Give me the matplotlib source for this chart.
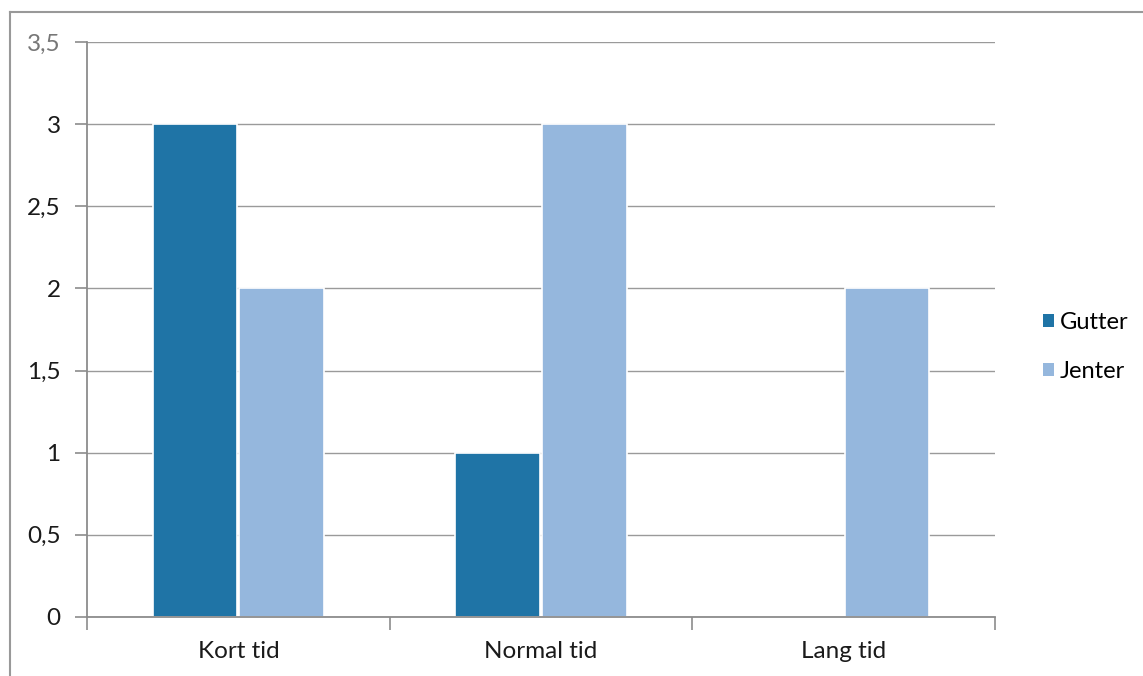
import numpy as np
import matplotlib
matplotlib.use('Agg')
import matplotlib.pyplot as plt
from matplotlib.lines import Line2D
from matplotlib.patches import Patch

# data
categories = ['Kort tid', 'Normal tid', 'Lang tid']
gutter = [3, 1, 0]
jenter = [2, 3, 2]
series_names = ['Gutter', 'Jenter']
y_ticks = [0, 0.5, 1, 1.5, 2, 2.5, 3, 3.5]
y_labels = ['0', '0,5', '1', '1,5', '2', '2,5', '3', '3,5']

dark = '#1f74a6'
light = '#95b7dd'
grey = '#8c8c8c'

plt.rcParams['font.family'] = ['Lato', 'DejaVu Sans']

fig = plt.figure(figsize=(11.43, 6.76), dpi=100)
ax = fig.add_axes([0.0761, 0.0873, 0.7944, 0.8506])

x = np.arange(len(categories)) + 0.5
w = 0.28
ax.bar(x - 0.143, gutter, w, color=dark, edgecolor='white', linewidth=1.2, zorder=3)
ax.bar(x + 0.143, jenter, w, color=light, edgecolor='white', linewidth=1.2, zorder=3)

ax.set_xlim(0, 3)
ax.set_ylim(0, 3.5)
ax.set_yticks(y_ticks)
ax.set_yticklabels(y_labels)
ax.set_xticks(x)
ax.set_xticklabels(categories)
ax.set_xticks([0, 1, 2, 3], minor=True)
ax.tick_params(axis='x', which='major', length=0, pad=17, labelsize=17.5, labelcolor='#1a1a1a')
ax.tick_params(axis='x', which='minor', length=9, width=1.2, color=grey, direction='out')
ax.tick_params(axis='y', length=9, width=1.2, color=grey, pad=10, labelsize=17.5, labelcolor='#1a1a1a')
ax.get_yticklabels()[-1].set_color('#777777')

ax.grid(axis='y', color='#9a9a9a', linewidth=1.0, zorder=0)
for s in ['top', 'right']:
    ax.spines[s].set_visible(False)
for s in ['left', 'bottom']:
    ax.spines[s].set_color(grey)
    ax.spines[s].set_linewidth(1.3)
    ax.spines[s].set_zorder(4)

handles = [Patch(facecolor=dark, edgecolor='none'), Patch(facecolor=light, edgecolor='none')]
fig.legend(handles, series_names, loc='center left', bbox_to_anchor=(1043 / 1143, 0.487),
           frameon=False, fontsize=17, handlelength=0.45, handleheight=0.45,
           handletextpad=0.25, labelspacing=1.2, borderpad=0, borderaxespad=0)

# outer frame of the scanned chart
fig.add_artist(Line2D([10 / 1143, 10 / 1143], [0, 1 - 12 / 676], transform=fig.transFigure,
                      color='#999999', linewidth=1.5))
fig.add_artist(Line2D([10 / 1143, 1], [1 - 12 / 676, 1 - 12 / 676], transform=fig.transFigure,
                      color='#999999', linewidth=1.5))

fig.savefig('out.png', dpi=100)
